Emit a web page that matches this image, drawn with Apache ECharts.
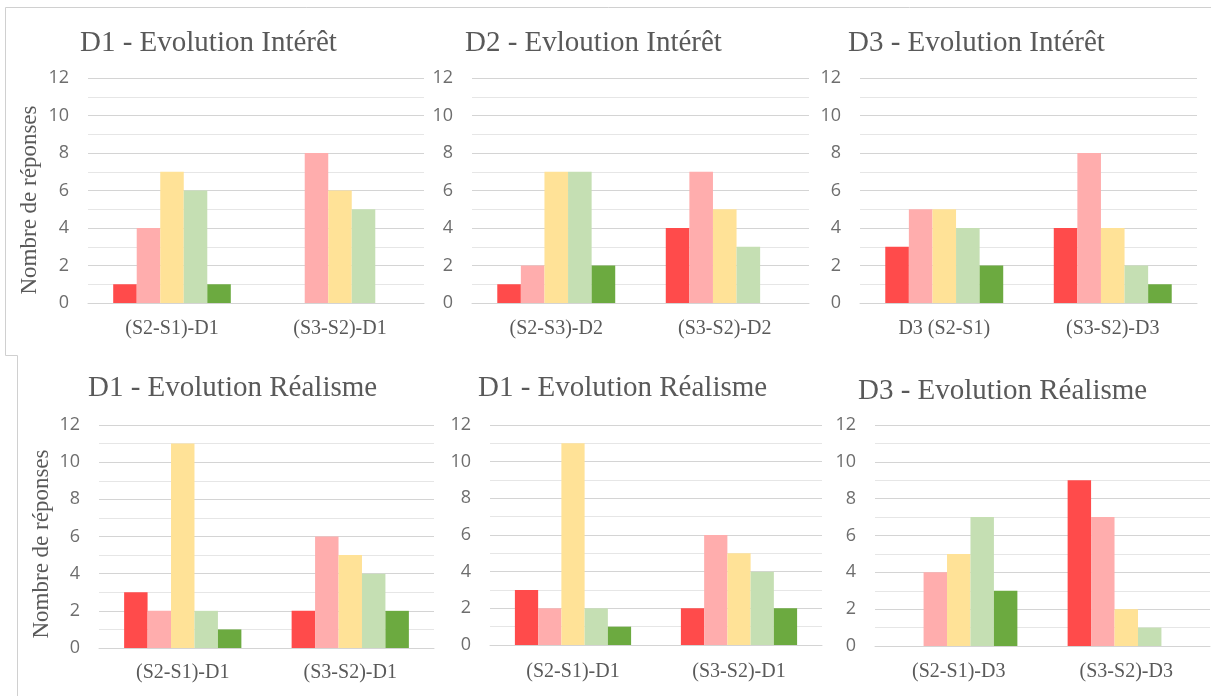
<!DOCTYPE html>
<html>
<head>
<meta charset="utf-8">
<script src="https://cdn.jsdelivr.net/npm/echarts@6/dist/echarts.min.js"></script>
<style>
  html, body { margin: 0; padding: 0; background: #ffffff; }
  #chart { width: 1211px; height: 696px; }
</style>
</head>
<body>
<div id="chart"></div>
<script>
// ---- Data ----
const seriesNames = ['Niveau 1', 'Niveau 2', 'Niveau 3', 'Niveau 4', 'Niveau 5'];
const titles = [
  'D1 - Evolution Intérêt',
  'D2 - Evloution Intérêt',
  'D3 - Evolution Intérêt',
  'D1 - Evolution Réalisme',
  'D1 - Evolution Réalisme',
  'D3 - Evolution Réalisme'
];
const categories1 = ['(S2-S1)-D1', '(S3-S2)-D1'];
const categories2 = ['(S2-S3)-D2', '(S3-S2)-D2'];
const categories3 = ['D3 (S2-S1)', '(S3-S2)-D3'];
const categories4 = ['(S2-S1)-D1', '(S3-S2)-D1'];
const categories5 = ['(S2-S1)-D1', '(S3-S2)-D1'];
const categories6 = ['(S2-S1)-D3', '(S3-S2)-D3'];
// values per series (rows) per category (columns)
const values1 = [[1, 0], [4, 8], [7, 6], [6, 5], [1, 0]];
const values2 = [[1, 4], [2, 7], [7, 5], [7, 3], [2, 0]];
const values3 = [[3, 4], [5, 8], [5, 4], [4, 2], [2, 1]];
const values4 = [[3, 2], [2, 6], [11, 5], [2, 4], [1, 2]];
const values5 = [[3, 2], [2, 6], [11, 5], [2, 4], [1, 2]];
const values6 = [[0, 9], [4, 7], [5, 2], [7, 1], [3, 0]];
const yAxisTitle = 'Nombre de réponses';
const yMin = 0, yMax = 12, yInterval = 2;

// ---- Styling / layout ----
const colors = ['#FF4B4B', '#FFADAD', '#FFE297', '#C5DFB3', '#6CAA40'];
const panels = [
  { cats: categories1, vals: values1, grid: { left: 88, top: 78, width: 336, height: 225 }, title: { left: 80, top: 29 }, labelMargin: 16 },
  { cats: categories2, vals: values2, grid: { left: 472, top: 78, width: 337, height: 225 }, title: { left: 465, top: 29 }, labelMargin: 16 },
  { cats: categories3, vals: values3, grid: { left: 860, top: 78, width: 337, height: 225 }, title: { left: 848, top: 29 }, labelMargin: 16 },
  { cats: categories4, vals: values4, grid: { left: 99, top: 425, width: 335, height: 223 }, title: { left: 88, top: 374 }, labelMargin: 15 },
  { cats: categories5, vals: values5, grid: { left: 490, top: 425, width: 332, height: 220 }, title: { left: 478, top: 374 }, labelMargin: 17 },
  { cats: categories6, vals: values6, grid: { left: 875, top: 425, width: 335, height: 221 }, title: { left: 858, top: 377 }, labelMargin: 16 }
];

const option = {
  animation: false,
  backgroundColor: '#ffffff',
  title: [], grid: [], xAxis: [], yAxis: [], series: [],
  graphic: []
};

panels.forEach((p, i) => {
  option.title.push({
    text: titles[i], left: p.title.left, top: p.title.top, padding: 0,
    textStyle: { fontFamily: 'Liberation Serif', fontSize: 29, fontWeight: 'normal', color: '#595959' }
  });
  option.grid.push(Object.assign({ containLabel: false }, p.grid));
  option.xAxis.push({
    type: 'category', gridIndex: i, data: p.cats,
    axisLine: { show: true, lineStyle: { color: '#d4d4d4', width: 1 } },
    axisTick: { show: false },
    axisLabel: { fontFamily: 'Liberation Serif', fontSize: 20, color: '#595959', margin: p.labelMargin, interval: 0 },
    splitLine: { show: false }
  });
  option.yAxis.push({
    type: 'value', gridIndex: i, min: yMin, max: yMax, interval: yInterval,
    axisLine: { show: false }, axisTick: { show: false },
    axisLabel: { fontFamily: 'Open Sans', fontSize: 18, color: '#6e6e6e', margin: 19 },
    splitLine: { show: true, lineStyle: { color: '#d4d4d4', width: 1 } },
    minorTick: { show: false, splitNumber: 2 },
    minorSplitLine: { show: true, lineStyle: { color: '#e6e6e6', width: 1 } }
  });
  p.vals.forEach((v, s) => {
    option.series.push({
      type: 'bar', name: seriesNames[s], xAxisIndex: i, yAxisIndex: i,
      data: v, barGap: '0%', barCategoryGap: '30%',
      itemStyle: { color: colors[s] }, silent: true
    });
  });
});

// Y-axis titles (panels 1 and 4)
option.graphic.push({
  type: 'text', x: 30, y: 200, rotation: Math.PI / 2,
  style: { text: yAxisTitle, fontFamily: 'Liberation Serif', fontSize: 23, fill: '#595959', align: 'center', verticalAlign: 'middle' }
});
option.graphic.push({
  type: 'text', x: 42, y: 544, rotation: Math.PI / 2,
  style: { text: yAxisTitle, fontFamily: 'Liberation Serif', fontSize: 23, fill: '#595959', align: 'center', verticalAlign: 'middle' }
});
// frame lines from the composed screenshot
option.graphic.push({
  type: 'polyline', silent: true,
  shape: { points: [[1211, 7.5], [5.5, 7.5], [5.5, 355.5], [17.5, 355.5], [17.5, 696]] },
  style: { stroke: '#d0d0d0', lineWidth: 1, fill: null }
});

const chart = echarts.init(document.getElementById('chart'), null, { renderer: 'canvas' });
chart.setOption(option);
</script>
</body>
</html>
